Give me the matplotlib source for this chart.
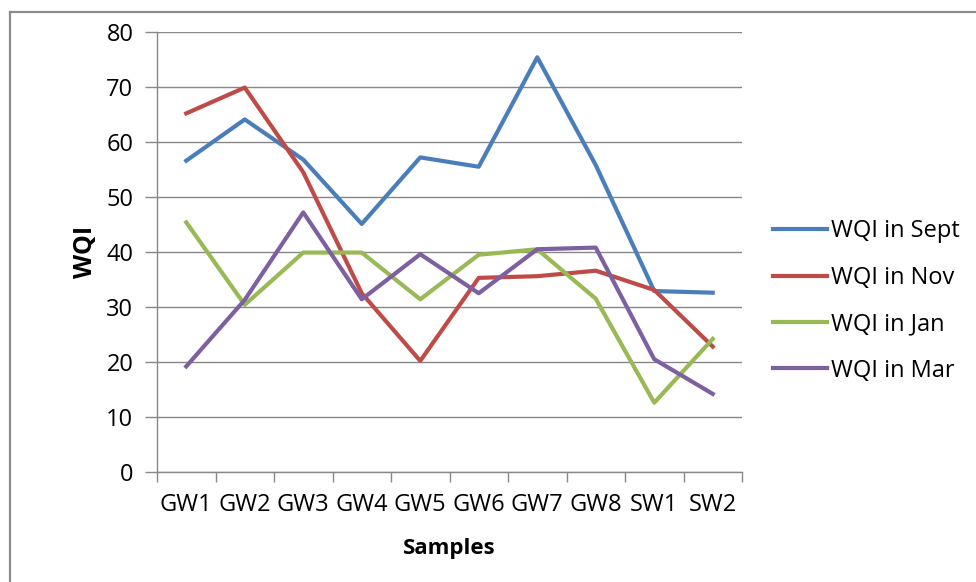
import matplotlib
matplotlib.use("Agg")
import matplotlib.pyplot as plt
import numpy as np

samples = ['GW1', 'GW2', 'GW3', 'GW4', 'GW5', 'GW6', 'GW7', 'GW8', 'SW1', 'SW2']
wqi_sept = [56.6, 64.1, 56.8, 45.1, 57.2, 55.5, 75.4, 55.8, 32.9, 32.6]
wqi_nov = [65.2, 69.9, 54.5, 32.5, 20.2, 35.3, 35.6, 36.6, 33.1, 22.8]
wqi_jan = [45.4, 30.4, 39.9, 39.9, 31.4, 39.5, 40.5, 31.5, 12.6, 24.2]
wqi_mar = [19.2, 31.3, 47.2, 31.4, 39.6, 32.5, 40.5, 40.8, 20.5, 14.2]

plt.rcParams['font.family'] = ['Open Sans', 'DejaVu Sans']
grey = '#878787'

fig = plt.figure(figsize=(9.76, 5.82), dpi=100)
ax = fig.add_axes([157/976, 1 - 472/582, (742 - 157)/976, (472 - 32)/582])

x = np.arange(len(samples))
ax.plot(x, wqi_sept, color='#4A7EBB', lw=3, label='WQI in Sept')
ax.plot(x, wqi_nov, color='#BE4B48', lw=3, label='WQI in Nov')
ax.plot(x, wqi_jan, color='#98B954', lw=3, label='WQI in Jan')
ax.plot(x, wqi_mar, color='#7D60A0', lw=3, label='WQI in Mar')

ax.set_xlim(-0.5, len(samples) - 0.5)
ax.set_ylim(0, 80)
ax.set_yticks(np.arange(0, 81, 10))
ax.set_xticks(x)
ax.set_xticklabels(samples)
ax.set_xticks(np.arange(-0.5, len(samples), 1), minor=True)
ax.tick_params(axis='x', which='major', length=0, pad=15, labelsize=17)
ax.tick_params(axis='x', which='minor', length=7, width=1, color=grey, direction='out')
ax.tick_params(axis='y', length=9, width=1, color=grey, pad=8, labelsize=17)

ax.grid(axis='y', color=grey, lw=1)
ax.set_axisbelow(True)
for s in ['top', 'right']:
    ax.spines[s].set_visible(False)
for s in ['left', 'bottom']:
    ax.spines[s].set_color(grey)
    ax.spines[s].set_linewidth(1)

ax.set_xlabel('Samples', fontsize=16, fontweight='bold', labelpad=15)
ax.set_ylabel('WQI', fontsize=18, fontweight='bold', labelpad=6)

fig.legend(loc='center left', bbox_to_anchor=(773/976, 1 - 301/582),
           frameon=False, fontsize=17, handlelength=2.3, handletextpad=0.15,
           labelspacing=0.95, borderpad=0, borderaxespad=0)

# chart frame (left and top edges visible)
fig.add_artist(plt.Line2D([10/976, 10/976], [0, 1 - 12/582], color='#8c8c8c', lw=1.6))
fig.add_artist(plt.Line2D([10/976, 1], [1 - 12/582, 1 - 12/582], color='#8c8c8c', lw=1.6))

fig.savefig('out.png', dpi=100)
